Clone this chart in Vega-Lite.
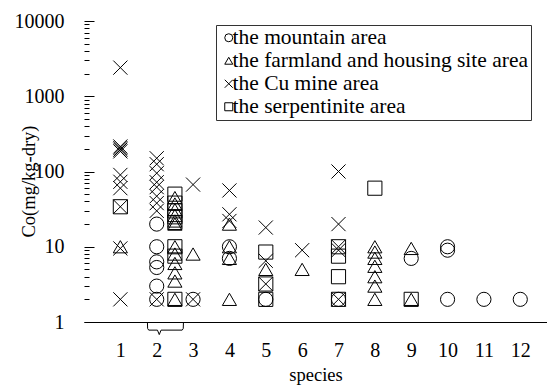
{
  "$schema": "https://vega.github.io/schema/vega-lite/v6.json",
  "autosize": "none",
  "width": 463,
  "height": 301,
  "padding": {"left": 84, "top": 21, "right": 0, "bottom": 65},
  "background": "white",
  "config": {
    "view": {"stroke": null},
    "font": "Liberation Serif",
    "axis": {"grid": false, "domainColor": "black", "tickColor": "black", "labelColor": "black", "titleColor": "black", "labelFont": "Liberation Serif", "titleFont": "Liberation Serif", "titleFontWeight": "normal", "labelFlush": false, "labelOverlap": false, "labelBound": false}
  },
  "datasets": {
    "points": [
      {"species": 1, "Co": 2400, "area": "the Cu mine area"},
      {"species": 1, "Co": 215, "area": "the Cu mine area"},
      {"species": 1, "Co": 205, "area": "the Cu mine area"},
      {"species": 1, "Co": 195, "area": "the Cu mine area"},
      {"species": 1, "Co": 185, "area": "the Cu mine area"},
      {"species": 1, "Co": 90, "area": "the Cu mine area"},
      {"species": 1, "Co": 73, "area": "the Cu mine area"},
      {"species": 1, "Co": 60, "area": "the Cu mine area"},
      {"species": 1, "Co": 34, "area": "the Cu mine area"},
      {"species": 1, "Co": 9.5, "area": "the Cu mine area"},
      {"species": 1, "Co": 2, "area": "the Cu mine area"},
      {"species": 1, "Co": 34, "area": "the serpentinite area"},
      {"species": 1, "Co": 10, "area": "the farmland and housing site area"},
      {"species": 2, "Co": 150, "area": "the Cu mine area"},
      {"species": 2, "Co": 125, "area": "the Cu mine area"},
      {"species": 2, "Co": 95, "area": "the Cu mine area"},
      {"species": 2, "Co": 72, "area": "the Cu mine area"},
      {"species": 2, "Co": 62, "area": "the Cu mine area"},
      {"species": 2, "Co": 47, "area": "the Cu mine area"},
      {"species": 2, "Co": 38, "area": "the Cu mine area"},
      {"species": 2, "Co": 30, "area": "the Cu mine area"},
      {"species": 2, "Co": 2, "area": "the Cu mine area"},
      {"species": 2, "Co": 20, "area": "the mountain area"},
      {"species": 2, "Co": 10, "area": "the mountain area"},
      {"species": 2, "Co": 6.3, "area": "the mountain area"},
      {"species": 2, "Co": 5.3, "area": "the mountain area"},
      {"species": 2, "Co": 3, "area": "the mountain area"},
      {"species": 2, "Co": 2, "area": "the mountain area"},
      {"species": 2.5, "Co": 50, "area": "the serpentinite area"},
      {"species": 2.5, "Co": 38, "area": "the serpentinite area"},
      {"species": 2.5, "Co": 30, "area": "the serpentinite area"},
      {"species": 2.5, "Co": 25, "area": "the serpentinite area"},
      {"species": 2.5, "Co": 21, "area": "the serpentinite area"},
      {"species": 2.5, "Co": 10, "area": "the serpentinite area"},
      {"species": 2.5, "Co": 7.5, "area": "the serpentinite area"},
      {"species": 2.5, "Co": 2, "area": "the serpentinite area"},
      {"species": 2.5, "Co": 45, "area": "the farmland and housing site area"},
      {"species": 2.5, "Co": 37, "area": "the farmland and housing site area"},
      {"species": 2.5, "Co": 31, "area": "the farmland and housing site area"},
      {"species": 2.5, "Co": 26, "area": "the farmland and housing site area"},
      {"species": 2.5, "Co": 22, "area": "the farmland and housing site area"},
      {"species": 2.5, "Co": 20, "area": "the farmland and housing site area"},
      {"species": 2.5, "Co": 10, "area": "the farmland and housing site area"},
      {"species": 2.5, "Co": 8, "area": "the farmland and housing site area"},
      {"species": 2.5, "Co": 6, "area": "the farmland and housing site area"},
      {"species": 2.5, "Co": 4.5, "area": "the farmland and housing site area"},
      {"species": 2.5, "Co": 3.5, "area": "the farmland and housing site area"},
      {"species": 2.5, "Co": 2, "area": "the farmland and housing site area"},
      {"species": 3, "Co": 67, "area": "the Cu mine area"},
      {"species": 3, "Co": 2, "area": "the Cu mine area"},
      {"species": 3, "Co": 8, "area": "the farmland and housing site area"},
      {"species": 3, "Co": 2, "area": "the mountain area"},
      {"species": 4, "Co": 56, "area": "the Cu mine area"},
      {"species": 4, "Co": 27, "area": "the Cu mine area"},
      {"species": 4, "Co": 22, "area": "the Cu mine area"},
      {"species": 4, "Co": 20, "area": "the farmland and housing site area"},
      {"species": 4, "Co": 10, "area": "the farmland and housing site area"},
      {"species": 4, "Co": 7, "area": "the farmland and housing site area"},
      {"species": 4, "Co": 2, "area": "the farmland and housing site area"},
      {"species": 4, "Co": 10, "area": "the mountain area"},
      {"species": 4, "Co": 7, "area": "the mountain area"},
      {"species": 5, "Co": 18, "area": "the Cu mine area"},
      {"species": 5, "Co": 6.5, "area": "the Cu mine area"},
      {"species": 5, "Co": 3.2, "area": "the Cu mine area"},
      {"species": 5, "Co": 5, "area": "the farmland and housing site area"},
      {"species": 5, "Co": 8.5, "area": "the serpentinite area"},
      {"species": 5, "Co": 3.2, "area": "the serpentinite area"},
      {"species": 5, "Co": 2, "area": "the serpentinite area"},
      {"species": 5, "Co": 2, "area": "the mountain area"},
      {"species": 6, "Co": 9, "area": "the Cu mine area"},
      {"species": 6, "Co": 5, "area": "the farmland and housing site area"},
      {"species": 7, "Co": 100, "area": "the Cu mine area"},
      {"species": 7, "Co": 20, "area": "the Cu mine area"},
      {"species": 7, "Co": 10, "area": "the Cu mine area"},
      {"species": 7, "Co": 9, "area": "the Cu mine area"},
      {"species": 7, "Co": 2, "area": "the Cu mine area"},
      {"species": 7, "Co": 10, "area": "the serpentinite area"},
      {"species": 7, "Co": 7.5, "area": "the serpentinite area"},
      {"species": 7, "Co": 4, "area": "the serpentinite area"},
      {"species": 7, "Co": 2, "area": "the serpentinite area"},
      {"species": 7, "Co": 2, "area": "the mountain area"},
      {"species": 8, "Co": 60, "area": "the serpentinite area"},
      {"species": 8, "Co": 10, "area": "the farmland and housing site area"},
      {"species": 8, "Co": 8.5, "area": "the farmland and housing site area"},
      {"species": 8, "Co": 7, "area": "the farmland and housing site area"},
      {"species": 8, "Co": 5.5, "area": "the farmland and housing site area"},
      {"species": 8, "Co": 4, "area": "the farmland and housing site area"},
      {"species": 8, "Co": 3, "area": "the farmland and housing site area"},
      {"species": 8, "Co": 2, "area": "the farmland and housing site area"},
      {"species": 9, "Co": 9.5, "area": "the farmland and housing site area"},
      {"species": 9, "Co": 2, "area": "the farmland and housing site area"},
      {"species": 9, "Co": 7, "area": "the mountain area"},
      {"species": 9, "Co": 2, "area": "the serpentinite area"},
      {"species": 10, "Co": 10, "area": "the mountain area"},
      {"species": 10, "Co": 9, "area": "the mountain area"},
      {"species": 10, "Co": 2, "area": "the mountain area"},
      {"species": 11, "Co": 2, "area": "the mountain area"},
      {"species": 12, "Co": 2, "area": "the mountain area"}
    ],
    "brace": [
      {"i": 1, "bx": 1.745, "by": 0.98},
      {"i": 2, "bx": 1.75, "by": 0.82},
      {"i": 3, "bx": 1.78, "by": 0.78},
      {"i": 4, "bx": 2.02, "by": 0.78},
      {"i": 5, "bx": 2.07, "by": 0.68},
      {"i": 6, "bx": 2.12, "by": 0.78},
      {"i": 7, "bx": 2.70, "by": 0.78},
      {"i": 8, "bx": 2.73, "by": 0.82},
      {"i": 9, "bx": 2.735, "by": 0.98}
    ]
  },
  "layer": [
    {
      "data": {"name": "points"},
      "mark": {"type": "point", "filled": false, "color": "black", "strokeWidth": 1, "opacity": 1, "size": 200},
      "encoding": {
        "x": {"field": "species", "type": "quantitative",
          "scale": {"domain": [0, 12.735], "nice": false, "zero": false},
          "axis": {"values": [1,2,3,4,5,6,7,8,9,10,11,12], "format": "d", "ticks": false, "labelPadding": 18, "labelFontSize": 20, "title": "species", "titleFontSize": 18.5, "titlePadding": 5}},
        "y": {"field": "Co", "type": "quantitative",
          "scale": {"type": "log", "domain": [1, 10000], "nice": false},
          "axis": {
            "orient": "left",
            "offset": -10,
            "domain": false,
            "values": [1,2,3,4,5,6,7,8,9,10,20,30,40,50,60,70,80,90,100,200,300,400,500,600,700,800,900,1000,2000,3000,4000,5000,6000,7000,8000,9000,10000],
            "format": "d",
            "labelExpr": "indexof([1,10,100,1000,10000], datum.value) >= 0 ? datum.label : ''",
            "tickSize": 10,
            "tickDash": {"condition": {"test": "indexof([1,10,100,1000,10000], datum.value) >= 0", "value": [10, 0]}, "value": [0, 5, 5, 0]},
            "labelPadding": 20,
            "labelFontSize": 20,
            "title": "Co(mg/kg-dry)",
            "titleFontSize": 18.5,
            "titleX": -66,
            "titleY": 160,
            "titleBaseline": "middle"
          }},
        "shape": {"field": "area", "type": "nominal",
          "scale": {"domain": ["the mountain area", "the farmland and housing site area", "the Cu mine area", "the serpentinite area"],
                    "range": ["circle", "triangle-up", "M-1,-1L1,1M1,-1L-1,1", "square"]},
          "legend": {"title": null, "orient": "none", "legendX": 132, "legendY": 4, "direction": "vertical",
            "labelFont": "Liberation Serif", "labelFontSize": 21.5, "labelColor": "black", "labelLimit": 600, "labelOffset": -7,
            "symbolSize": 64, "symbolStrokeColor": "black", "symbolStrokeWidth": 1, "symbolFillColor": "transparent",
            "rowPadding": 0, "padding": 2, "strokeColor": "#333", "fillColor": "white", "cornerRadius": 0}}
      }
    },
    {
      "data": {"name": "brace"},
      "mark": {"type": "line", "color": "black", "strokeWidth": 1, "clip": false},
      "encoding": {
        "x": {"field": "bx", "type": "quantitative"},
        "y": {"field": "by", "type": "quantitative"},
        "order": {"field": "i"}
      }
    },
    {
      "mark": {"type": "rule", "color": "black", "strokeWidth": 1},
      "encoding": {"y": {"datum": 10000}}
    },
    {
      "mark": {"type": "rule", "color": "black", "strokeWidth": 1},
      "encoding": {"x": {"datum": 0}}
    }
  ]
}
